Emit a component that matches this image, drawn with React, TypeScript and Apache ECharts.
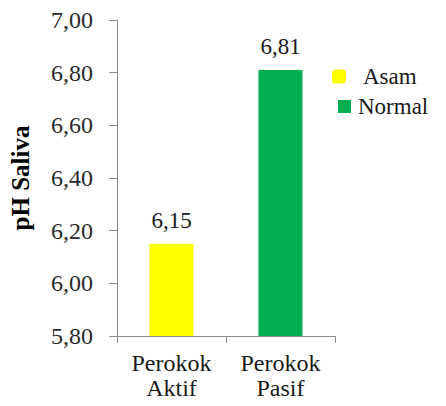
import React, { useEffect, useRef } from "react";
import * as echarts from "echarts";

const categories = ["Perokok\nAktif", "Perokok\nPasif"];
const asamValues = [6.15, null];
const normalValues = [null, 6.81];
const seriesNames = ["Asam", "Normal"];
const yMin = 5.8;
const yMax = 7.0;
const yStep = 0.2;

const serif = "Times New Roman";
const axisGrey = "#8c8c8c";

const fmt = (v: number) => v.toFixed(2).replace(".", ",");

export default function App() {
  const ref = useRef<HTMLDivElement>(null);

  useEffect(() => {
    if (!ref.current) return;
    const chart = echarts.init(ref.current, null, { renderer: "svg" });

    const valueLabel = {
      show: true,
      position: "top",
      distance: 12,
      fontFamily: serif,
      fontWeight: "normal",
      fontSize: 23,
      color: "#1a1a1a",
      formatter: (p: any) => fmt(p.value),
    };

    const legendText = { fontFamily: serif, fontWeight: "normal", fontSize: 23, color: "#1a1a1a" };

    chart.setOption({
      animation: false,
      backgroundColor: "#ffffff",
      textStyle: { fontFamily: serif, fontWeight: "normal" },
      grid: { left: 117, right: 111, top: 20, bottom: 70, containLabel: false },
      legend: [
        {
          data: [{ name: seriesNames[0], icon: "roundRect" }],
          left: 332,
          top: 65,
          padding: 0,
          itemWidth: 14,
          itemHeight: 14,
          itemGap: 6,
          textStyle: { ...legendText, padding: [0, 0, 0, 12] },
        },
        {
          data: [{ name: seriesNames[1], icon: "rect" }],
          left: 338,
          top: 95,
          padding: 0,
          itemWidth: 13,
          itemHeight: 13,
          itemGap: 6,
          textStyle: { ...legendText, padding: [0, 0, 0, 2] },
        },
      ],
      xAxis: {
        type: "category",
        data: categories,
        axisLine: { show: true, lineStyle: { color: axisGrey, width: 1 } },
        axisTick: { show: true, alignWithLabel: false, length: 7, lineStyle: { color: axisGrey } },
        axisLabel: {
          fontFamily: serif,
          fontWeight: "normal",
          fontSize: 24,
          lineHeight: 25,
          color: "#1a1a1a",
          margin: 14,
        },
        splitLine: { show: false },
      },
      yAxis: {
        type: "value",
        min: yMin,
        max: yMax,
        interval: yStep,
        name: "pH Saliva",
        nameLocation: "middle",
        nameRotate: 90,
        nameGap: 84,
        nameTextStyle: {
          fontFamily: serif,
          fontSize: 25,
          fontWeight: "bold",
          color: "#000000",
        },
        axisLine: { show: true, lineStyle: { color: axisGrey, width: 1 } },
        axisTick: { show: true, inside: false, length: 8, lineStyle: { color: axisGrey } },
        axisLabel: {
          fontFamily: serif,
          fontWeight: "normal",
          fontSize: 24,
          color: "#2a2a2a",
          margin: 24,
          formatter: (v: number) => fmt(v),
        },
        splitLine: { show: false },
      },
      series: [
        {
          name: seriesNames[0],
          type: "bar",
          data: asamValues,
          barWidth: 44,
          barGap: "-100%",
          itemStyle: { color: "#ffff00" },
          label: valueLabel,
        },
        {
          name: seriesNames[1],
          type: "bar",
          data: normalValues,
          barWidth: 44,
          barGap: "-100%",
          itemStyle: { color: "#00b050" },
          label: valueLabel,
        },
      ],
    });

    return () => chart.dispose();
  }, []);

  return <div ref={ref} style={{ width: 446, height: 406, margin: -8 }} />;
}
